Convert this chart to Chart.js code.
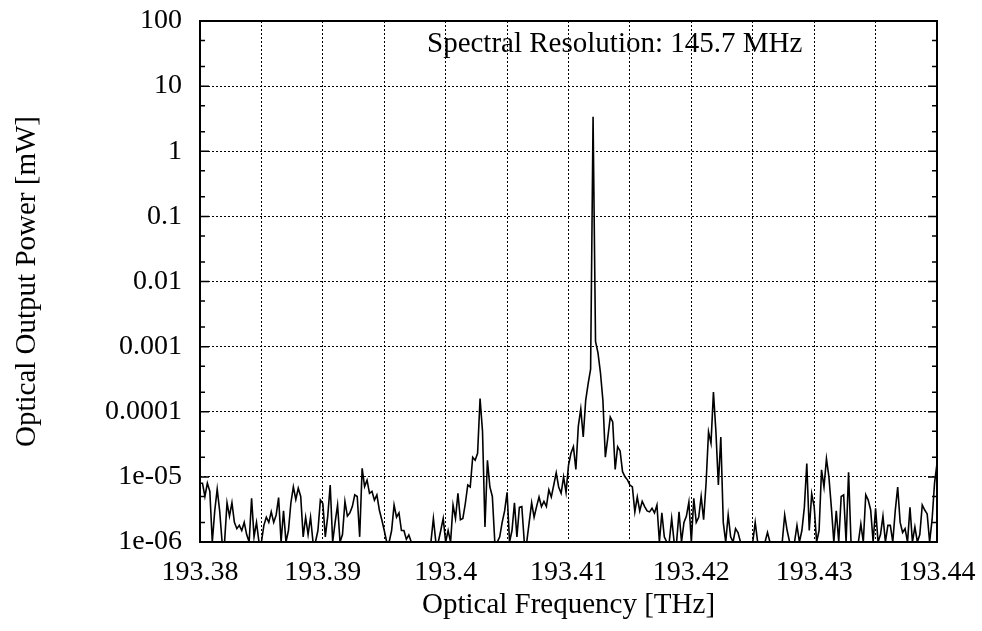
<!DOCTYPE html>
<html><head><meta charset="utf-8">
<script src="https://cdn.jsdelivr.net/npm/chart.js@4/dist/chart.umd.min.js"></script>
<style>html,body{margin:0;padding:0;background:#fff}#wrap{width:982px;height:631px}</style>
</head><body><div id="wrap"><canvas id="c" width="982" height="631"></canvas></div>
<script>
// Optical frequency [THz]
const freq = [
193.3800,193.3802,193.3804,193.3806,193.3808,193.3810,193.3812,193.3814,193.3816,193.3818,
193.3820,193.3822,193.3824,193.3826,193.3828,193.3830,193.3832,193.3834,193.3836,193.3838,
193.3840,193.3842,193.3844,193.3846,193.3848,193.3850,193.3852,193.3854,193.3856,193.3858,
193.3860,193.3862,193.3864,193.3866,193.3868,193.3870,193.3872,193.3874,193.3876,193.3878,
193.3880,193.3882,193.3884,193.3886,193.3888,193.3890,193.3892,193.3894,193.3896,193.3898,
193.3900,193.3902,193.3904,193.3906,193.3908,193.3910,193.3912,193.3914,193.3916,193.3918,
193.3920,193.3922,193.3924,193.3926,193.3928,193.3930,193.3932,193.3934,193.3936,193.3938,
193.3940,193.3942,193.3944,193.3946,193.3948,193.3950,193.3952,193.3954,193.3956,193.3958,
193.3960,193.3962,193.3964,193.3966,193.3968,193.3970,193.3972,193.3974,193.3976,193.3978,
193.3980,193.3982,193.3984,193.3986,193.3988,193.3990,193.3992,193.3994,193.3996,193.3998,
193.4000,193.4002,193.4004,193.4006,193.4008,193.4010,193.4012,193.4014,193.4016,193.4018,
193.4020,193.4022,193.4024,193.4026,193.4028,193.4030,193.4032,193.4034,193.4036,193.4038,
193.4040,193.4042,193.4044,193.4046,193.4048,193.4050,193.4052,193.4054,193.4056,193.4058,
193.4060,193.4062,193.4064,193.4066,193.4068,193.4070,193.4072,193.4074,193.4076,193.4078,
193.4080,193.4082,193.4084,193.4086,193.4088,193.4090,193.4092,193.4094,193.4096,193.4098,
193.4100,193.4102,193.4104,193.4106,193.4108,193.4110,193.4112,193.4114,193.4116,193.4118,
193.4120,193.4122,193.4124,193.4126,193.4128,193.4130,193.4132,193.4134,193.4136,193.4138,
193.4140,193.4142,193.4144,193.4146,193.4148,193.4150,193.4152,193.4154,193.4156,193.4158,
193.4160,193.4162,193.4164,193.4166,193.4168,193.4170,193.4172,193.4174,193.4176,193.4178,
193.4180,193.4182,193.4184,193.4186,193.4188,193.4190,193.4192,193.4194,193.4196,193.4198,
193.4200,193.4202,193.4204,193.4206,193.4208,193.4210,193.4212,193.4214,193.4216,193.4218,
193.4220,193.4222,193.4224,193.4226,193.4228,193.4230,193.4232,193.4234,193.4236,193.4238,
193.4240,193.4242,193.4244,193.4246,193.4248,193.4250,193.4252,193.4254,193.4256,193.4258,
193.4260,193.4262,193.4264,193.4266,193.4268,193.4270,193.4272,193.4274,193.4276,193.4278,
193.4280,193.4282,193.4284,193.4286,193.4288,193.4290,193.4292,193.4294,193.4296,193.4298,
193.4300,193.4302,193.4304,193.4306,193.4308,193.4310,193.4312,193.4314,193.4316,193.4318,
193.4320,193.4322,193.4324,193.4326,193.4328,193.4330,193.4332,193.4334,193.4336,193.4338,
193.4340,193.4342,193.4344,193.4346,193.4348,193.4350,193.4352,193.4354,193.4356,193.4358,
193.4360,193.4362,193.4364,193.4366,193.4368,193.4370,193.4372,193.4374,193.4376,193.4378,
193.4380,193.4382,193.4384,193.4386,193.4388,193.4390,193.4392,193.4394,193.4396,193.4398,
193.4400
];
// Optical output power [mW]
const power = [
8e-6,8e-6,5e-6,8e-6,6e-6,1e-6,3e-6,6.5e-6,3e-6,1e-6,
1e-6,4e-6,2.5e-6,4e-6,2e-6,1.6e-6,1.8e-6,1.5e-6,2e-6,1.3e-6,
1e-6,4.7e-6,1.2e-6,2e-6,1e-6,1e-6,1.8e-6,2.4e-6,2e-6,2.9e-6,
2e-6,2.6e-6,4.8e-6,1e-6,3e-6,1e-6,1.5e-6,4e-6,7e-6,4.5e-6,
6.7e-6,5e-6,1.2e-6,2.4e-6,1.3e-6,2.4e-6,1e-6,1e-6,1.5e-6,4.4e-6,
3.9e-6,1.2e-6,2.5e-6,7.5e-6,1e-6,2e-6,3.7e-6,1e-6,1.3e-6,4.2e-6,
2.5e-6,2.8e-6,3.5e-6,5.3e-6,5e-6,1.2e-6,1.35e-5,7.1e-6,8.9e-6,5.6e-6,
6e-6,4.4e-6,5.3e-6,3.1e-6,2.2e-6,1.5e-6,1e-6,1e-6,1.5e-6,3.7e-6,
2.4e-6,2.8e-6,1.5e-6,1.5e-6,1.1e-6,1.28e-6,1e-6,1e-6,1e-6,1e-6,
1e-6,1e-6,1e-6,1e-6,1e-6,2.3e-6,1e-6,1e-6,1.5e-6,2.3e-6,
1e-6,1.5e-6,1e-6,3.7e-6,2.3e-6,5.6e-6,2.2e-6,2.3e-6,3.9e-6,7.5e-6,
7e-6,2e-5,1.8e-5,2.3e-5,1.6e-4,5e-5,1.7e-6,1.8e-5,7e-6,5e-6,
1e-6,1e-6,1.2e-6,2e-6,3e-6,5.8e-6,1e-6,1.5e-6,4e-6,1.2e-6,
3.4e-6,3.5e-6,1e-6,1e-6,2e-6,4e-6,2.4e-6,3.5e-6,4.9e-6,3.5e-6,
4.2e-6,3.5e-6,6.3e-6,4.9e-6,7.5e-6,1.15e-5,7e-6,5.6e-6,1e-5,5.8e-6,
1.5e-5,2.3e-5,2.9e-5,1.3e-5,6e-5,1.1e-4,4.1e-5,1.5e-4,2.7e-4,4.5e-4,
3.4,1.2e-3,8e-4,4e-4,1.5e-4,2e-5,4e-5,8.3e-5,7e-5,1.3e-5,
2.9e-5,2.5e-5,1.2e-5,1e-5,9e-6,7.5e-6,7e-6,2.9e-6,4.9e-6,3e-6,
4.2e-6,3.5e-6,3e-6,2.9e-6,3.3e-6,2.8e-6,3.7e-6,1e-6,2.8e-6,1.2e-6,
1e-6,1e-6,2.3e-6,1e-6,1e-6,2.9e-6,1e-6,2e-6,2.5e-6,4.1e-6,
1e-6,4.7e-6,2e-6,2.4e-6,5e-6,2.2e-6,8e-6,4.9e-5,3.3e-5,2e-4,
5e-5,7.5e-6,4.1e-5,2e-6,1e-6,2.6e-6,1.2e-6,1e-6,1.6e-6,1.4e-6,
1e-6,1e-6,1e-6,1e-6,1e-6,1e-6,2e-6,1e-6,1e-6,1e-6,
1e-6,1.4e-6,1e-6,1e-6,1e-6,1e-6,1e-6,1e-6,2.6e-6,1.5e-6,
1e-6,1e-6,1e-6,1.8e-6,1e-6,1.5e-6,3.4e-6,1.6e-5,1.5e-6,5.5e-6,
3.5e-6,1e-6,1.5e-6,1.28e-5,7e-6,1.9e-5,1e-5,3.4e-6,1e-6,3e-6,
1e-6,5e-6,5.3e-6,1e-6,1.18e-5,1e-6,1e-6,1e-6,1e-6,1.9e-6,
1e-6,5.3e-6,4.4e-6,3.1e-6,1e-6,3.3e-6,1e-6,1.3e-6,2.5e-6,1e-6,
1.8e-6,1.8e-6,1e-6,3e-6,7e-6,2e-6,1.4e-6,1.6e-6,1e-6,3.4e-6,
1e-6,1.7e-6,1e-6,1.3e-6,3.7e-6,3.1e-6,2.7e-6,1e-6,2.2e-6,8e-6,
1.6e-5
];
const xGridValues = [193.38,193.385,193.39,193.395,193.40,193.405,193.41,193.415,193.42,193.425,193.43,193.435,193.44];
const xTickLabels = ['193.38','','193.39','','193.4','','193.41','','193.42','','193.43','','193.44'];
const yTickValues = [1e-6,1e-5,1e-4,1e-3,1e-2,1e-1,1,10,100];
const yTickLabels = ['1e-06','1e-05','0.0001','0.001','0.01','0.1','1','10','100'];
const yMinorMultipliers = [2,5];
const xTitle = 'Optical Frequency [THz]';
const yTitle = 'Optical Output Power [mW]';
const annotationText = 'Spectral Resolution: 145.7 MHz';

const SERIF = '"Liberation Serif", "Times New Roman", serif';

const noOverhang = s => { s.paddingTop = 0; s.paddingBottom = 0; s.paddingLeft = 0; s.paddingRight = 0; };

const framePlugin = {
  id: 'frame',
  afterDatasetsDraw(chart) {
    const {ctx, chartArea: a, scales: {y}} = chart;
    ctx.save();
    ctx.strokeStyle = '#000';
    ctx.lineWidth = 2;
    ctx.setLineDash([]);
    ctx.strokeRect(a.left, a.top, a.right - a.left, a.bottom - a.top);
    ctx.lineWidth = 1.5;
    ctx.beginPath();
    yTickValues.forEach((v, i) => {
      const p = y.getPixelForValue(v);
      ctx.moveTo(a.left, p); ctx.lineTo(a.left + 9, p);
      ctx.moveTo(a.right, p); ctx.lineTo(a.right - 9, p);
      if (i < yTickValues.length - 1) {
        yMinorMultipliers.forEach(m => {
          const q = y.getPixelForValue(v * m);
          ctx.moveTo(a.left, q); ctx.lineTo(a.left + 5, q);
          ctx.moveTo(a.right, q); ctx.lineTo(a.right - 5, q);
        });
      }
    });
    ctx.stroke();
    ctx.font = '29px ' + SERIF;
    ctx.fillStyle = '#000';
    ctx.textAlign = 'left';
    ctx.textBaseline = 'alphabetic';
    ctx.fillText(annotationText, a.left + 227, a.top + 31);
    ctx.restore();
  }
};

new Chart(document.getElementById('c'), {
  type: 'line',
  data: {
    datasets: [{
      data: freq.map((f, i) => ({x: f, y: power[i]})),
      borderColor: '#000',
      borderWidth: 1.6,
      pointRadius: 0,
      tension: 0,
      fill: false
    }]
  },
  options: {
    responsive: false,
    animation: false,
    devicePixelRatio: 1,
    layout: {padding: {left: 0, right: 45, top: 21, bottom: 0}},
    plugins: {legend: {display: false}, tooltip: {enabled: false}},
    scales: {
      x: {
        type: 'linear', min: 193.38, max: 193.44,
        afterBuildTicks: s => { s.ticks = xGridValues.map(v => ({value: v})); },
        afterFit: s => { s.height = 89; noOverhang(s); },
        ticks: {
          callback: (v, i) => xTickLabels[i],
          autoSkip: false, maxRotation: 0, minRotation: 0,
          padding: 14, color: '#000',
          font: {family: SERIF, size: 28}
        },
        grid: {color: '#000', lineWidth: 1, drawTicks: false},
        border: {display: false, dash: [2, 2]},
        title: {display: true, text: xTitle, color: '#000',
          font: {family: SERIF, size: 29}, padding: {top: 0, bottom: 8}}
      },
      y: {
        type: 'logarithmic', min: 1e-6, max: 100,
        afterBuildTicks: s => { s.ticks = yTickValues.map(v => ({value: v})); },
        afterFit: s => { s.width = 200; noOverhang(s); },
        ticks: {
          callback: (v, i) => yTickLabels[i],
          autoSkip: false, padding: 18, color: '#000',
          font: {family: SERIF, size: 28}
        },
        grid: {color: '#000', lineWidth: 1, drawTicks: false},
        border: {display: false, dash: [2, 2]},
        title: {display: true, text: yTitle, color: '#000',
          font: {family: SERIF, size: 29}, padding: {top: 10, bottom: 0}}
      }
    }
  },
  plugins: [framePlugin]
});
</script>
</body></html>
